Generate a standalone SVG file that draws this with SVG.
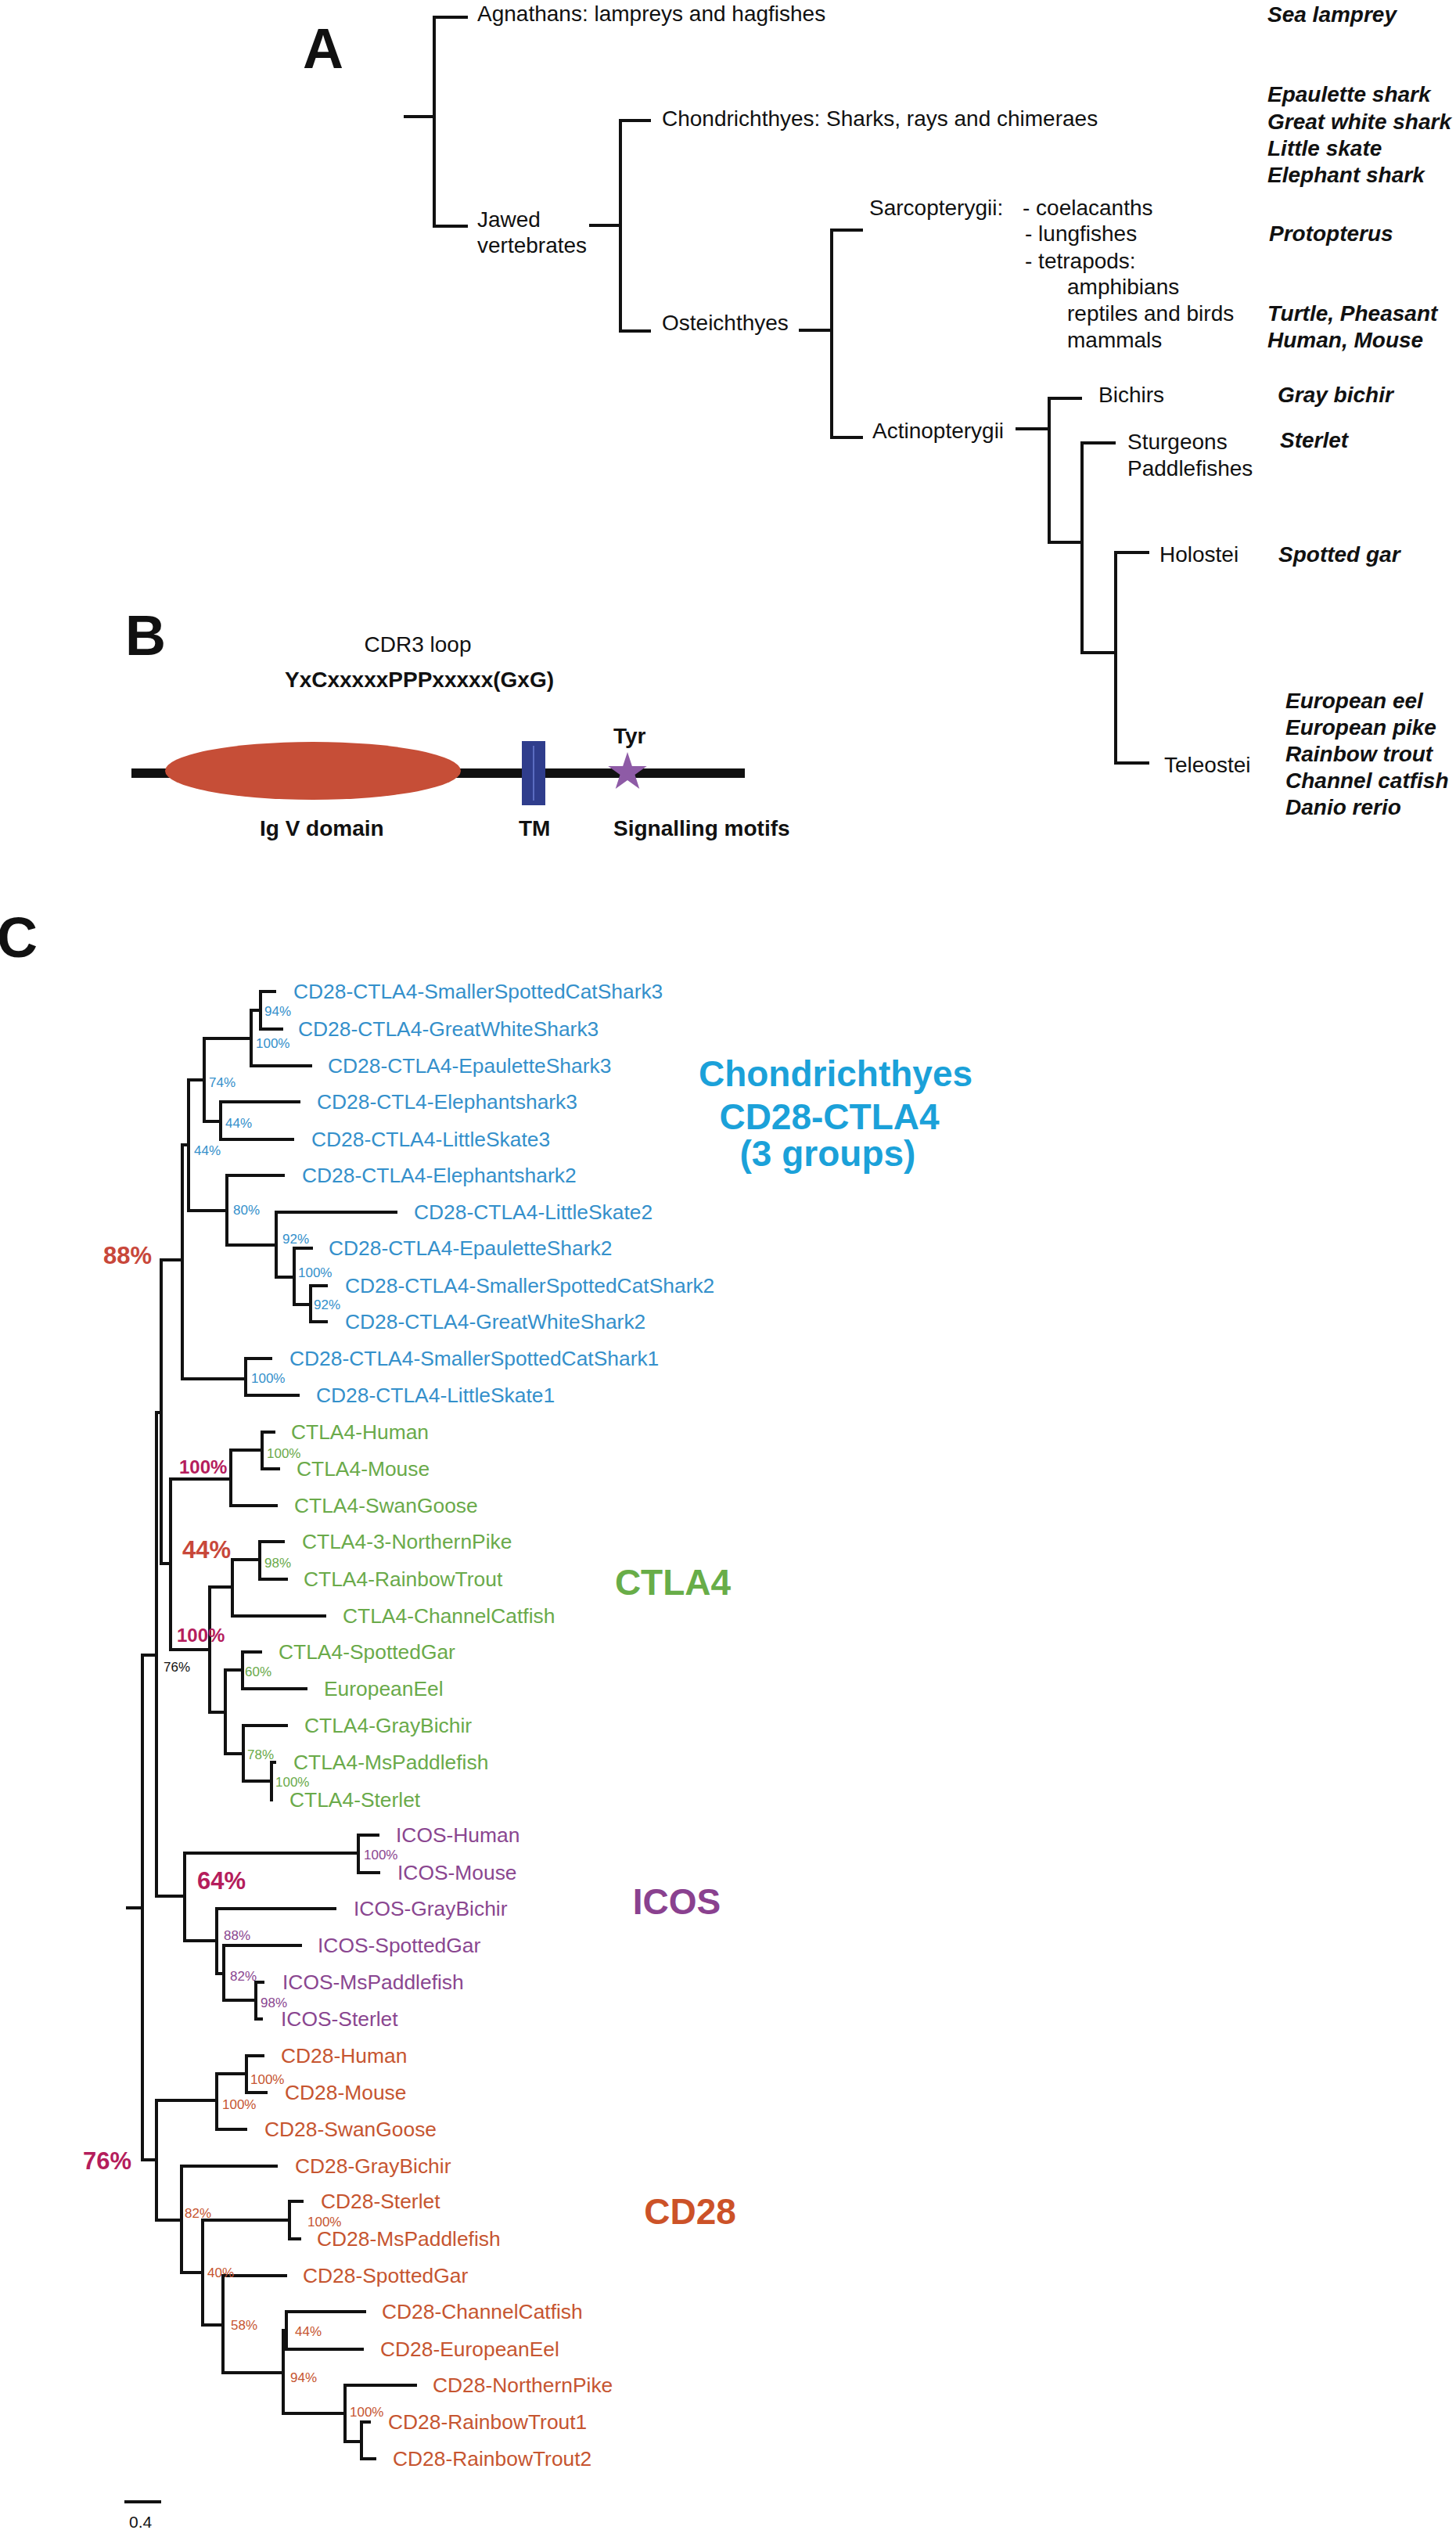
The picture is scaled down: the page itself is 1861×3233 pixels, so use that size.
<svg xmlns="http://www.w3.org/2000/svg" width="1861" height="3233" viewBox="0 0 1861 3233">
<style>
text{font-family:"Liberation Sans",Arial,sans-serif}
.pl{font-size:72px;font-weight:bold;fill:#111}
.ta{font-size:28px;fill:#111}
.sp{font-size:28px;font-weight:bold;font-style:italic;fill:#111}
.tb{font-size:28px;font-weight:bold;fill:#111}
.lf{font-size:26.4px}
.pc{font-size:17px}
.bl{fill:#3490CB}.gr{fill:#6AAA4A}.pu{fill:#8A4690}.or{fill:#C65530}
.grp{font-size:46px;font-weight:bold;text-anchor:middle}
.bp{font-weight:bold}
.red{fill:#C8473A}.mag{fill:#B51D5C}
.br{fill:none;stroke:#111;stroke-width:4;stroke-linejoin:miter;stroke-linecap:butt}
</style>
<rect width="1861" height="3233" fill="#fff"/>
<g id="connectors" class="br">
<path d="M516 149H555M598 22H555V289H598M753 288H793M832 154H793V423H832M1021 422H1063M1103 294H1063V559H1103M1298 548H1341M1383 509H1341V693H1383M1426 566H1383V834H1426M1469 706H1426V975H1469"/>
<path d="M353 1267H333V1315H362M333 1291H321V1362H399M321 1327H261V1433H282M384 1408H282V1456H376M261 1380H241V1547H290M364 1502H290V1591H353M508 1549H353V1632H376M400 1595H376V1667H397M419 1643H397V1689H419M241 1463H233V1762H314M348 1736H314V1783H383M233 1610H206V1998H218"/>
<path d="M295 1890H218V2108H268M335 1853H295V1924H355M352 1830H335V1877H358M297 2028H268V2188H288M332 1993H297V2065H417M364 1970H332V2018H368M310 2134H288V2241H311M335 2111H310V2158H393M368 2205H311V2276H347M353 2252H347V2300H349"/>
<path d="M206 1805H200V2423H236M458 2368H236V2480H277M485 2345H458V2393H486M430 2439H277V2522H286M386 2486H286V2556H327M338 2533H327V2580H336"/>
<path d="M161 2438H182M200 2115H182V2760H200"/>
<path d="M277 2684H200V2837H232M315 2650H277V2721H316M338 2627H315V2674H342M355 2768H232V2904H259M370 2837H259V2971H285M388 2813H370V2861H385M367 2908H285V3032H362M366 2978H362V3084H441M468 2954H366V3002H465M533 3048H441V3120H462M474 3095H462V3142H481"/>
<path d="M159 3197H206"/>
</g>
<g id="panelA">
<text class="pl" x="387" y="87">A</text>
<g id="agnathans"><text class="ta" x="610" y="27">Agnathans: lampreys and hagfishes</text><text class="sp" x="1620" y="28">Sea lamprey</text></g>
<g id="chondrichthyes"><text class="ta" x="846" y="161">Chondrichthyes: Sharks, rays and chimeraes</text>
<text class="sp" x="1620" y="130">Epaulette shark</text><text class="sp" x="1620" y="165">Great white shark</text><text class="sp" x="1620" y="199">Little skate</text><text class="sp" x="1620" y="233">Elephant shark</text></g>
<g id="jawed"><text class="ta" x="610" y="290">Jawed</text><text class="ta" x="610" y="323">vertebrates</text></g>
<g id="osteichthyes"><text class="ta" x="846" y="422">Osteichthyes</text></g>
<g id="sarcopterygii"><text class="ta" x="1111" y="275">Sarcopterygii:</text><text class="ta" x="1307" y="275">- coelacanths</text><text class="ta" x="1310" y="308">- lungfishes</text><text class="ta" x="1310" y="343">- tetrapods:</text><text class="ta" x="1364" y="376">amphibians</text><text class="ta" x="1364" y="410">reptiles and birds</text><text class="ta" x="1364" y="444">mammals</text>
<text class="sp" x="1622" y="308">Protopterus</text><text class="sp" x="1620" y="410">Turtle, Pheasant</text><text class="sp" x="1620" y="444">Human, Mouse</text></g>
<g id="actinopterygii"><text class="ta" x="1115" y="560">Actinopterygii</text></g>
<g id="bichirs"><text class="ta" x="1404" y="514">Bichirs</text><text class="sp" x="1633" y="514">Gray bichir</text></g>
<g id="sturgeons"><text class="ta" x="1441" y="574">Sturgeons</text><text class="ta" x="1441" y="608">Paddlefishes</text><text class="sp" x="1636" y="572">Sterlet</text></g>
<g id="holostei"><text class="ta" x="1482" y="718">Holostei</text><text class="sp" x="1634" y="718">Spotted gar</text></g>
<g id="teleostei"><text class="ta" x="1488" y="987">Teleostei</text>
<text class="sp" x="1643" y="905">European eel</text><text class="sp" x="1643" y="939">European pike</text><text class="sp" x="1643" y="973">Rainbow trout</text><text class="sp" x="1643" y="1007">Channel catfish</text><text class="sp" x="1643" y="1041">Danio rerio</text></g>
</g>
<g id="panelB">
<text class="pl" x="160" y="837">B</text>
<text class="ta" x="534" y="833" text-anchor="middle">CDR3 loop</text>
<text class="tb" x="536" y="878" text-anchor="middle">YxCxxxxxPPPxxxxx(GxG)</text>
<rect x="168" y="982" width="784" height="12" fill="#111"/>
<g id="igv"><ellipse cx="400" cy="985" rx="189" ry="37" fill="#C64E37"/><text class="tb" x="332" y="1068">Ig V domain</text></g>
<g id="tm"><rect x="667" y="947" width="30" height="82" fill="#2F3D8C"/><rect x="681" y="953" width="2" height="70" fill="#5A6CC0"/><text class="tb" x="663" y="1068">TM</text></g>
<g id="tyr"><path d="M802 961L807.9 978.9L826.7 979L811.5 990.1L817.3 1008L802 997L786.7 1008L792.5 990.1L777.3 979L796.1 978.9Z" fill="#8E5BA6"/><text class="tb" x="784" y="950">Tyr</text><text class="tb" x="784" y="1068">Signalling motifs</text></g>
</g>
<g id="panelC">
<text class="pl" x="-4" y="1223">C</text>
<g id="chondrichthyes-leaves" class="lf bl">
<text x="375" y="1276">CD28-CTLA4-SmallerSpottedCatShark3</text>
<text x="381" y="1324">CD28-CTLA4-GreatWhiteShark3</text>
<text x="419" y="1371">CD28-CTLA4-EpauletteShark3</text>
<text x="405" y="1417">CD28-CTL4-Elephantshark3</text>
<text x="398" y="1465">CD28-CTLA4-LittleSkate3</text>
<text x="386" y="1511">CD28-CTLA4-Elephantshark2</text>
<text x="529" y="1558">CD28-CTLA4-LittleSkate2</text>
<text x="420" y="1604">CD28-CTLA4-EpauletteShark2</text>
<text x="441" y="1652">CD28-CTLA4-SmallerSpottedCatShark2</text>
<text x="441" y="1698">CD28-CTLA4-GreatWhiteShark2</text>
<text x="370" y="1745">CD28-CTLA4-SmallerSpottedCatShark1</text>
<text x="404" y="1792">CD28-CTLA4-LittleSkate1</text>
</g>
<g id="chondrichthyes-support" class="pc bl">
<text x="338" y="1298">94%</text><text x="327" y="1339">100%</text><text x="267" y="1389">74%</text><text x="288" y="1441">44%</text><text x="248" y="1476">44%</text><text x="298" y="1552">80%</text><text x="361" y="1589">92%</text><text x="381" y="1632">100%</text><text x="401" y="1673">92%</text><text x="321" y="1767">100%</text>
</g>
<g id="ctla4-leaves" class="lf gr">
<text x="372" y="1839">CTLA4-Human</text>
<text x="379" y="1886">CTLA4-Mouse</text>
<text x="376" y="1933">CTLA4-SwanGoose</text>
<text x="386" y="1979">CTLA4-3-NorthernPike</text>
<text x="388" y="2027">CTLA4-RainbowTrout</text>
<text x="438" y="2074">CTLA4-ChannelCatfish</text>
<text x="356" y="2120">CTLA4-SpottedGar</text>
<text x="414" y="2167">EuropeanEel</text>
<text x="389" y="2214">CTLA4-GrayBichir</text>
<text x="375" y="2261">CTLA4-MsPaddlefish</text>
<text x="370" y="2309">CTLA4-Sterlet</text>
</g>
<g id="ctla4-support" class="pc gr">
<text x="341" y="1863">100%</text><text x="338" y="2003">98%</text><text x="313" y="2142">60%</text><text x="316" y="2248">78%</text><text x="352" y="2283">100%</text>
</g>
<text class="pc" x="209" y="2136" fill="#111">76%</text>
<g id="icos-leaves" class="lf pu">
<text x="506" y="2354">ICOS-Human</text>
<text x="508" y="2402">ICOS-Mouse</text>
<text x="452" y="2448">ICOS-GrayBichir</text>
<text x="406" y="2495">ICOS-SpottedGar</text>
<text x="361" y="2542">ICOS-MsPaddlefish</text>
<text x="359" y="2589">ICOS-Sterlet</text>
</g>
<g id="icos-support" class="pc pu">
<text x="465" y="2376">100%</text><text x="286" y="2479">88%</text><text x="294" y="2531">82%</text><text x="333" y="2565">98%</text>
</g>
<g id="cd28-leaves" class="lf or">
<text x="359" y="2636">CD28-Human</text>
<text x="364" y="2683">CD28-Mouse</text>
<text x="338" y="2730">CD28-SwanGoose</text>
<text x="377" y="2777">CD28-GrayBichir</text>
<text x="410" y="2822">CD28-Sterlet</text>
<text x="405" y="2870">CD28-MsPaddlefish</text>
<text x="387" y="2917">CD28-SpottedGar</text>
<text x="488" y="2963">CD28-ChannelCatfish</text>
<text x="486" y="3011">CD28-EuropeanEel</text>
<text x="553" y="3057">CD28-NorthernPike</text>
<text x="496" y="3104">CD28-RainbowTrout1</text>
<text x="502" y="3151">CD28-RainbowTrout2</text>
</g>
<g id="cd28-support" class="pc or">
<text x="320" y="2663">100%</text><text x="284" y="2695">100%</text><text x="236" y="2834">82%</text><text x="393" y="2845">100%</text><text x="265" y="2910">40%</text><text x="295" y="2977">58%</text><text x="377" y="2985">44%</text><text x="371" y="3044">94%</text><text x="447" y="3088">100%</text>
</g>
<g id="major-support" class="bp">
<text class="red" x="132" y="1615" font-size="31">88%</text>
<text class="mag" x="229" y="1883" font-size="24">100%</text>
<text class="red" x="233" y="1991" font-size="31">44%</text>
<text class="mag" x="226" y="2098" font-size="24">100%</text>
<text class="mag" x="252" y="2414" font-size="31">64%</text>
<text class="mag" x="106" y="2772" font-size="31">76%</text>
</g>
<g id="group-chondrichthyes"><text class="grp" x="1068" y="1388" fill="#1BA1D9">Chondrichthyes</text><text class="grp" x="1060" y="1443" fill="#1BA1D9">CD28-CTLA4</text><text class="grp" x="1058" y="1490" fill="#1BA1D9">(3 groups)</text></g>
<g id="group-ctla4"><text class="grp" x="860" y="2038" fill="#68AD48">CTLA4</text></g>
<g id="group-icos"><text class="grp" x="865" y="2446" fill="#8A418F">ICOS</text></g>
<g id="group-cd28"><text class="grp" x="882" y="2842" fill="#CC5228">CD28</text></g>
<g id="scale"><text x="165" y="3230" font-size="21" fill="#111">0.4</text></g>
</g>
</svg>
